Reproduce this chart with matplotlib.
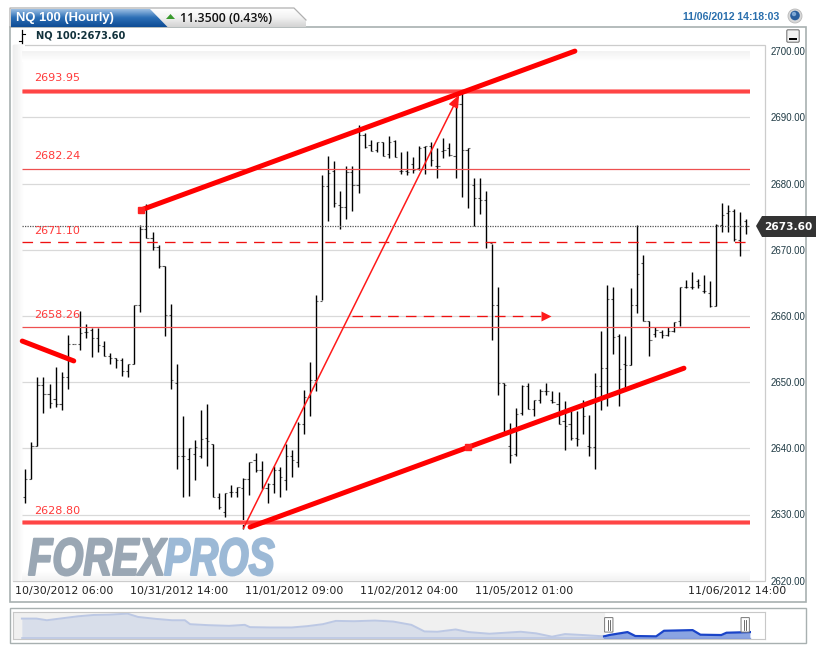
import numpy as np
import matplotlib
matplotlib.use('Agg')
import matplotlib.pyplot as plt
from matplotlib.patches import Polygon, Rectangle, Circle, FancyBboxPatch
from matplotlib.patheffects import AbstractPathEffect
from matplotlib.transforms import Affine2D

W, H = 816, 651

# OHLC hourly bars
bar_open = [2632.6, 2635.3, 2640.4, 2649.5, 2648.2, 2647.4, 2646.7, 2650.7, 2655.8, 2655.8,
            2657.6, 2657.8, 2656.7, 2655.5, 2654.0, 2653.7, 2653.3, 2651.7, 2652.7, 2661.6,
            2673.1, 2671.8, 2670.4, 2667.6, 2660.2, 2649.9, 2638.8, 2638.4, 2639.1, 2638.8,
            2641.6, 2640.6, 2632.7, 2630.4, 2633.4, 2633.4, 2634.0, 2635.4, 2638.2, 2636.7,
            2634.0, 2634.6, 2636.7, 2635.2, 2638.9, 2637.9, 2643.7, 2647.8, 2650.3, 2662.2,
            2679.6, 2681.9, 2676.8, 2676.5, 2681.8, 2679.7, 2687.3, 2685.8, 2685.1, 2686.2,
            2684.5, 2686.4, 2681.9, 2681.9, 2683.0, 2682.3, 2685.5, 2685.6, 2682.7, 2684.9,
            2685.3, 2684.2, 2692.0, 2685.1, 2679.8, 2677.8, 2677.5, 2671.0, 2661.6, 2649.8,
            2640.3, 2639.1, 2645.3, 2649.4, 2645.9, 2647.3, 2648.6, 2647.3, 2646.7, 2644.1,
            2643.7, 2641.5, 2646.3, 2640.3, 2640.2, 2649.4, 2652.1, 2662.6, 2656.9, 2652.7,
            2652.6, 2661.7, 2668.0, 2659.2, 2657.2, 2657.5, 2657.1, 2657.7, 2659.2, 2664.3,
            2664.3, 2665.2, 2663.7, 2663.5, 2661.5, 2673.8, 2675.5, 2675.9, 2671.4, 2674.3]
bar_high = [2636.8, 2640.9, 2650.7, 2650.7, 2649.7, 2652.3, 2651.6, 2657.1, 2655.8, 2660.8,
            2658.8, 2658.2, 2658.2, 2656.2, 2654.4, 2653.7, 2653.6, 2652.8, 2661.7, 2673.7,
            2676.9, 2672.7, 2670.7, 2667.6, 2661.8, 2652.7, 2644.9, 2640.0, 2641.2, 2645.8,
            2646.7, 2640.6, 2633.3, 2633.3, 2634.5, 2634.2, 2635.5, 2637.9, 2639.3, 2638.1,
            2634.7, 2637.3, 2637.1, 2640.6, 2639.8, 2643.9, 2648.8, 2653.1, 2663.2, 2681.3,
            2684.2, 2683.4, 2678.8, 2682.6, 2682.6, 2688.8, 2687.7, 2686.5, 2686.3, 2686.2,
            2687.1, 2686.6, 2684.7, 2684.9, 2684.0, 2685.6, 2685.7, 2686.2, 2685.3, 2686.8,
            2686.1, 2692.6, 2693.9, 2685.3, 2680.8, 2680.8, 2678.8, 2670.9, 2664.3, 2649.8,
            2643.8, 2646.1, 2649.6, 2649.9, 2647.3, 2648.9, 2649.9, 2648.7, 2648.5, 2647.1,
            2645.6, 2645.7, 2647.3, 2645.0, 2651.4, 2657.7, 2664.6, 2664.3, 2657.2, 2657.0,
            2664.2, 2673.8, 2669.2, 2659.3, 2658.3, 2657.8, 2658.3, 2659.1, 2664.4, 2665.4,
            2666.6, 2665.6, 2666.2, 2665.2, 2673.9, 2677.1, 2676.7, 2676.1, 2675.7, 2674.6]
bar_low = [2631.7, 2635.3, 2640.4, 2645.4, 2646.1, 2646.2, 2645.8, 2648.9, 2655.8, 2654.8,
           2656.7, 2653.8, 2654.6, 2653.9, 2652.7, 2652.2, 2650.9, 2650.7, 2652.7, 2660.6,
           2671.8, 2669.9, 2667.2, 2656.9, 2648.9, 2636.9, 2632.7, 2632.8, 2635.2, 2638.6,
           2637.4, 2632.7, 2630.9, 2629.6, 2632.6, 2632.7, 2627.8, 2632.9, 2636.4, 2633.9,
           2631.7, 2633.3, 2632.7, 2633.7, 2635.6, 2637.2, 2642.2, 2644.9, 2648.7, 2662.4,
           2674.4, 2676.4, 2673.2, 2674.7, 2675.8, 2678.5, 2685.3, 2684.9, 2684.8, 2684.1,
           2683.8, 2684.0, 2681.5, 2681.3, 2681.6, 2682.0, 2681.4, 2682.6, 2680.9, 2683.9,
           2684.1, 2680.9, 2677.9, 2676.3, 2673.6, 2675.4, 2670.3, 2656.3, 2648.1, 2642.3,
           2637.8, 2638.9, 2645.0, 2645.9, 2644.9, 2646.9, 2648.0, 2646.8, 2643.6, 2639.7,
           2641.3, 2640.3, 2642.2, 2638.9, 2636.9, 2645.8, 2646.4, 2654.3, 2646.4, 2648.8,
           2652.6, 2660.4, 2659.2, 2653.9, 2656.8, 2656.7, 2656.9, 2657.5, 2658.4, 2664.2,
           2664.1, 2664.2, 2663.4, 2661.3, 2661.5, 2672.7, 2672.7, 2671.3, 2669.0, 2672.3]
bar_close = [2635.3, 2640.4, 2649.5, 2648.2, 2646.8, 2646.7, 2650.7, 2655.8, 2655.8, 2657.4,
             2657.6, 2656.7, 2655.6, 2654.0, 2653.7, 2653.3, 2651.7, 2652.7, 2661.6, 2673.2,
             2671.8, 2670.4, 2667.6, 2660.2, 2650.3, 2638.8, 2638.8, 2640.0, 2640.2, 2641.4,
             2641.1, 2632.7, 2631.1, 2633.3, 2633.4, 2634.1, 2635.4, 2637.9, 2636.7, 2634.0,
             2634.6, 2636.7, 2635.6, 2638.9, 2638.3, 2643.7, 2647.8, 2650.3, 2662.2, 2679.6,
             2681.6, 2677.1, 2676.5, 2681.8, 2679.7, 2687.3, 2685.5, 2684.9, 2686.2, 2684.2,
             2686.3, 2684.0, 2681.9, 2681.8, 2682.0, 2685.4, 2685.6, 2683.6, 2682.6, 2685.0,
             2684.3, 2692.0, 2685.1, 2685.3, 2677.8, 2677.5, 2671.2, 2661.6, 2649.8, 2649.6,
             2639.0, 2645.2, 2649.4, 2645.9, 2647.3, 2648.6, 2648.7, 2647.0, 2643.7, 2643.3,
             2641.5, 2641.4, 2644.9, 2640.2, 2649.4, 2652.1, 2662.6, 2656.8, 2652.0, 2652.6,
             2661.7, 2666.3, 2659.2, 2656.3, 2657.9, 2657.1, 2657.7, 2659.1, 2664.3, 2664.4,
             2664.4, 2664.7, 2663.7, 2661.5, 2673.8, 2675.2, 2675.8, 2671.6, 2673.6, 2673.6]

price_ticks = [2620, 2630, 2640, 2650, 2660, 2670, 2680, 2690, 2700]
date_labels = ['10/30/2012 06:00', '10/31/2012 14:00', '11/01/2012 09:00',
               '11/02/2012 04:00', '11/05/2012 01:00', '11/06/2012 14:00']
date_ticks = [6.4, 25.4, 44.4, 63.4, 82.4, 117.4]

level_heavy = [2693.95, 2628.80]
level_thin = [2682.24, 2658.26]
level_dashed = 2671.10
last_price = 2673.60
level_labels = ['2693.95', '2682.24', '2671.10', '2658.26', '2628.80']
level_label_prices = [2695.9, 2684.2, 2672.9, 2660.1, 2630.6]

# hand drawn trend lines (bar index, price)
channel_top_x, channel_top_y = [19.1, 90.7], [2676.0, 2700.0]
channel_bot_x, channel_bot_y = [37.1, 108.7], [2628.1, 2652.1]
old_trend_x, old_trend_y = [-0.5, 8.0], [2656.2, 2653.2]
thin_arrow_x, thin_arrow_y = [36.0, 71.6], [2627.9, 2693.4]
dash_arrow_x, dash_arrow_y = [53.9, 86.0], [2660.0, 2660.0]

# overview strip at the bottom
nav_pos = [0, 28, 48, 78, 108, 138, 168, 203, 223, 258, 288, 313, 323, 358, 398, 428, 438, 478,
           518, 548, 578, 603, 638, 678, 713, 748, 773, 798, 833, 858, 898, 928, 958, 988, 1018,
           1043, 1078, 1118]
nav_val = [60, 60, 55, 61, 67, 71, 72, 75, 65, 59, 55, 55, 43, 40, 38, 41, 34, 33,
           33, 37, 43, 53, 52, 54, 51, 41, 21, 20, 27, 19, 14, 17, 20, 15, 5,
           13, 10, 6]
nav_sel_pos = [1118, 1128, 1163, 1178, 1218, 1233, 1288, 1303, 1343, 1353, 1398]
nav_sel_val = [6, 10, 19, 7, 6, 23, 25, 11, 10, 17, 19]


class Squeeze(AbstractPathEffect):
    # narrows the glyphs, the installed fonts have no condensed heavy italic
    def __init__(self, sx, edge, lw):
        super().__init__()
        self.sx, self.edge, self.lw = sx, edge, lw

    def draw_path(self, renderer, gc, tpath, affine, rgbFace):
        gc0 = renderer.new_gc()
        gc0.copy_properties(gc)
        gc0.set_foreground(self.edge)
        gc0.set_linewidth(self.lw)
        renderer.draw_path(gc0, tpath, Affine2D().scale(self.sx, 1) + affine, rgbFace)
        gc0.restore()


def px_axes(fig, x0, y0, x1, y1):
    return fig.add_axes([x0 / W, 1 - y1 / H, (x1 - x0) / W, (y1 - y0) / H])


fig = plt.figure(figsize=(W / 100, H / 100), dpi=100, facecolor='white')

# chrome layer in pixel coordinates
bg = fig.add_axes([0, 0, 1, 1])
bg.set_xlim(0, W)
bg.set_ylim(H, 0)
bg.axis('off')

bg.add_patch(Rectangle((10, 27), 795.5, 575, fc='white', ec='#a8b0b0', lw=1.2))
bg.add_patch(Rectangle((12.5, 45), 752, 536, fc='white', ec='#cccccc', lw=0.9))

# soft shading round the plot area
fade = np.linspace(0.93, 1, 12).reshape(1, -1)
bg.imshow(fade, extent=(12.5, 24, 581, 45), cmap='gray', vmin=0, vmax=1, aspect='auto', zorder=1)
top_fade = np.linspace(0.95, 1, 10).reshape(-1, 1)
bg.imshow(top_fade, extent=(22, 750, 62, 51), cmap='gray', vmin=0, vmax=1, aspect='auto', zorder=1)
bg.imshow(top_fade, extent=(22, 750, 570, 581), cmap='gray', vmin=0, vmax=1, aspect='auto', zorder=1)
bg.set_xlim(0, W)
bg.set_ylim(H, 0)

# tabs
grad = np.linspace(0, 1, 20).reshape(-1, 1)
blue = matplotlib.colors.LinearSegmentedColormap.from_list('tab', ['#a3c4e6', '#2c6fb6', '#0f4d96'])
grey = matplotlib.colors.LinearSegmentedColormap.from_list('tabg', ['#ffffff', '#f2f2f2', '#d4d4d4'])
im2 = bg.imshow(grad, extent=(150, 306, 27, 8), cmap=grey, aspect='auto', zorder=2)
im2.set_clip_path(Polygon([(150, 8), (294, 8), (306, 20), (306, 27), (150, 27)], transform=bg.transData))
im = bg.imshow(grad, extent=(11, 168, 27.5, 9), cmap=blue, aspect='auto', zorder=3)
im.set_clip_path(Polygon([(11, 9), (150, 9), (168, 27.5), (11, 27.5)], transform=bg.transData))
bg.plot([10, 10, 294, 306], [27, 8, 8, 20], color='#b0b0b0', lw=0.9, zorder=3)
bg.set_xlim(0, W)
bg.set_ylim(H, 0)

bg.text(16.5, 18, 'NQ 100 (Hourly)', color='white', fontsize=9.4, weight='bold', family='Liberation Sans',
        va='center', zorder=4)
bg.add_patch(Polygon([(166, 19), (175, 19), (170.5, 14)], fc='#3a9a2e', ec='none', zorder=4))
bg.text(179.5, 18, '11.3500 (0.43%)', color='#111111', fontsize=8.9, family='Open Sans', weight='semibold',
        va='center', zorder=4)
bg.text(36, 36, 'NQ 100:2673.60', color='#12323c', fontsize=7.1, weight='bold', family='DejaVu Sans',
        va='center', zorder=4)
bg.plot([22, 22], [30, 43], color='black', lw=0.9, zorder=4)
bg.plot([22, 25], [34, 34], color='black', lw=0.8, zorder=4)
bg.plot([19, 22], [41, 41], color='black', lw=0.8, zorder=4)
bg.text(683, 17.5, '11/06/2012 14:18:03', color='#2a6fad', fontsize=7.6, weight='bold', family='Liberation Sans',
        va='center', zorder=4)
bg.add_patch(Circle((795, 16), 7, fc='#d8d8d8', ec='#b8b8b8', lw=0.6, zorder=4))
bg.add_patch(Circle((795, 15.5), 4.8, fc='#2a5f9e', ec='none', zorder=5))
bg.add_patch(Circle((794, 14), 2.2, fc='#7fa8d4', ec='none', zorder=6))
bg.add_patch(FancyBboxPatch((788, 31), 10, 10, boxstyle='round,pad=1.2', fc='#f2f2f2', ec='#777777', lw=0.8, zorder=4))
bg.add_patch(Rectangle((789, 38), 8, 2, fc='black', zorder=5))

# main chart
ax = px_axes(fig, 22, 51.1, 750, 580.7)
ax.patch.set_alpha(0)
ax.set_xlim(-0.54, 119.6)
ax.set_ylim(price_ticks[0], price_ticks[-1])
for s in ax.spines.values():
    s.set_visible(False)
ax.tick_params(length=0, labelleft=False, labelright=True, pad=0)
ax.yaxis.tick_right()
ax.set_yticks(price_ticks)
ax.set_yticklabels([f'{p:.2f}' for p in price_ticks], fontsize=6.9, color='#1f3a44', family='Liberation Sans')
ax.tick_params(axis='y', pad=15)
ax.set_xticks(date_ticks)
ax.set_xticklabels(date_labels, fontsize=7.9, color='#222222', family='DejaVu Sans')
ax.tick_params(axis='x', pad=3.5)
ax.hlines(price_ticks[1:-1], -0.54, 119.6, color='#d9d9d9', lw=0.9, zorder=1)

idx = np.arange(len(bar_open))
tick = 0.36
ax.hlines(bar_open, idx - tick, idx, color='#555555', lw=0.8, zorder=2)
ax.hlines(bar_close, idx, idx + tick, color='#777777', lw=0.8, zorder=2)
ax.vlines(idx, bar_low, bar_high, color='black', lw=1.0, zorder=3)

ax.hlines(level_thin, -0.54, 119.6, color='#ee5050', lw=0.9, zorder=4)
ax.hlines(level_heavy, -0.54, 119.6, color='#ffb0b0', lw=3.6, zorder=4)
ax.hlines(level_heavy, -0.54, 119.6, color='#ff4545', lw=2.5, zorder=5)
ax.hlines(level_dashed, -0.54, 119.6, color='#ee1111', lw=0.95, linestyles=(0, (8, 5.5)), zorder=4)
ax.hlines(last_price, -0.54, 119.6, color='#555555', lw=0.9, linestyles=(0, (1, 1)), zorder=4)

for lab, p in zip(level_labels, level_label_prices):
    ax.text(1.4, p, lab, color='#ff3a3a', fontsize=8, family='DejaVu Sans', va='center', zorder=6)

for xs, ys in [(channel_top_x, channel_top_y), (channel_bot_x, channel_bot_y), (old_trend_x, old_trend_y)]:
    ax.plot(xs, ys, color='#ff0000', lw=3.6, solid_capstyle='round', zorder=6, clip_on=False)
ax.plot(channel_top_x[0], channel_top_y[0], 's', color='#ff2020', ms=4.5, zorder=6)
ax.plot(73, 2640.2, 's', color='#ff2020', ms=4.5, zorder=7)

ax.annotate('', xy=(thin_arrow_x[1], thin_arrow_y[1]), xytext=(thin_arrow_x[0], thin_arrow_y[0]),
            arrowprops=dict(arrowstyle='-|>,head_length=0.75,head_width=0.3', color='#ff1a1a', lw=1.1,
                            shrinkA=0, shrinkB=0), zorder=6)
ax.plot(dash_arrow_x[:2], dash_arrow_y[:2], color='#ee1111', lw=0.95, linestyle=(0, (8, 5.5)), zorder=6)
ax.plot(dash_arrow_x[1], dash_arrow_y[1], '>', color='#ff1a1a', ms=7, mec='none', zorder=6)

# watermark
mark_font = dict(fontsize=38, weight='bold', style='italic', family='Liberation Sans', va='baseline', zorder=1.5)
t1 = bg.text(28, 575, 'FOREX', color='#9aa7b4', **mark_font)
t1.set_path_effects([Squeeze(0.755, '#9aa7b4', 1.4)])
t2 = bg.text(164, 575, 'PROS', color='#9cb9d6', **mark_font)
t2.set_path_effects([Squeeze(0.74, '#9cb9d6', 1.4)])

# price flag on the right, drawn on top of everything
tag = fig.add_axes([0, 0, 1, 1])
tag.patch.set_alpha(0)
tag.axis('off')
tag.set_xlim(0, W)
tag.set_ylim(H, 0)
tag.add_patch(Polygon([(756, 226), (762, 216), (816, 216), (816, 237), (762, 237)], fc='#333333', ec='none'))
tag.text(764, 226.5, f'{last_price:.2f}', color='white', fontsize=7.6, weight='bold', family='DejaVu Sans', va='center')

# overview strip
tag.add_patch(Rectangle((10, 608), 795.5, 35, fc='white', ec='#a8b0b0', lw=1.0, zorder=0))
nav = px_axes(fig, 12.5, 612, 765, 638.5)
nav.set_xlim(-18, 1427)
nav.set_ylim(-0.5, 80)
nav.set_xticks([])
nav.set_yticks([])
for s in nav.spines.values():
    s.set_color('#c8c8c8')
nav.axvspan(-18, nav_sel_pos[0], color='#f0f0f0', zorder=0)
nav.fill_between(nav_pos, nav_val, 0, color='#d8deea', lw=0, zorder=1)
nav.plot(nav_pos, nav_val, color='#bcc8e4', lw=1.4, zorder=2)
nav.plot([nav_pos[0], nav_pos[-1]], [0, 0], color='#bcc8e4', lw=1.2, zorder=2)
nav.fill_between(nav_sel_pos, nav_sel_val, 0, color='#8aa4e2', lw=0, zorder=1)
nav.plot(nav_sel_pos, nav_sel_val, color='#1a44c8', lw=1.6, zorder=2)
nav.plot([nav_sel_pos[0], nav_sel_pos[-1]], [0, 0], color='#7f99dd', lw=1.0, zorder=2)
for pos in [nav_sel_pos[0] + 9, nav_sel_pos[-1] - 9]:
    nav.add_patch(FancyBboxPatch((pos - 7, 20), 14, 42, boxstyle='round,pad=1', fc='white', ec='#777777', lw=0.7, zorder=3))
    nav.plot([pos - 2, pos - 2], [26, 56], color='#555555', lw=0.6, zorder=4)
    nav.plot([pos + 2, pos + 2], [26, 56], color='#555555', lw=0.6, zorder=4)

fig.savefig('out.png', dpi=100)
